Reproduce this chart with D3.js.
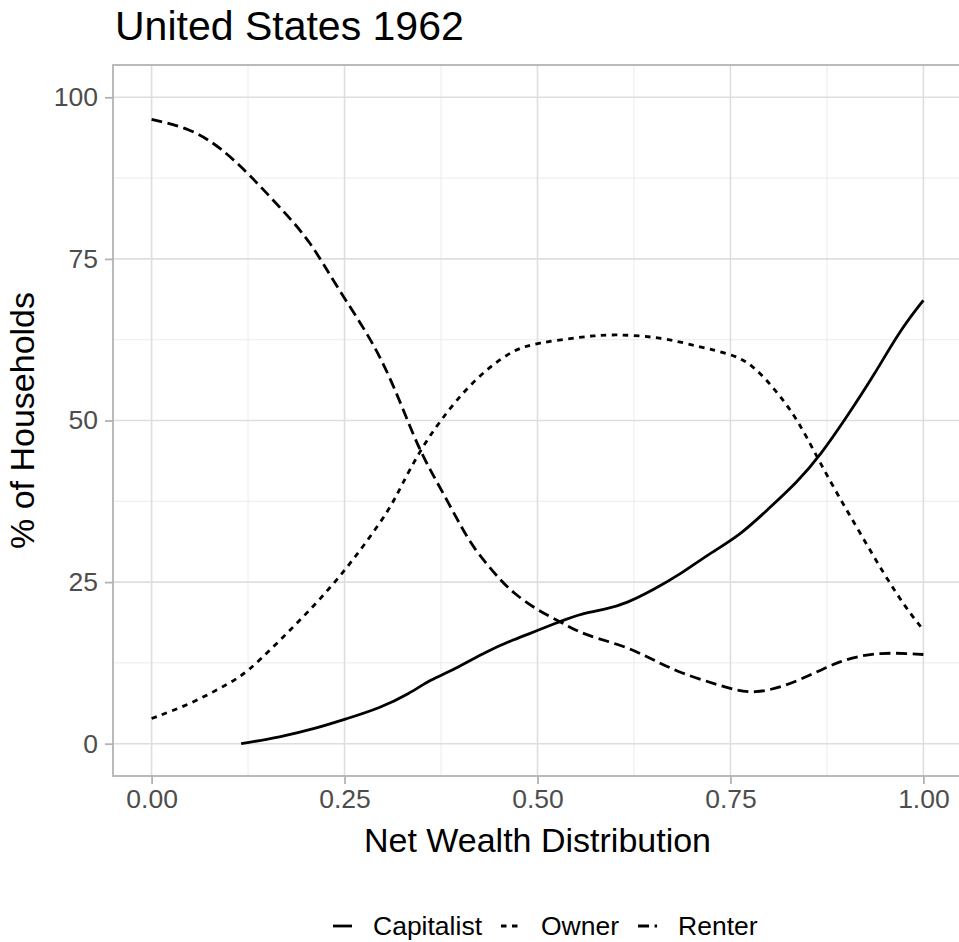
<!DOCTYPE html>
<html>
<head>
<meta charset="utf-8">
<script src="https://cdn.jsdelivr.net/npm/d3@7"></script>
<style>
  body { margin: 0; background: #fff; }
  svg { display: block; font-family: "Liberation Sans", Arial, sans-serif; }
</style>
</head>
<body>
<svg id="chart" width="959" height="942"></svg>
<script>
// --- data ---
const seriesNames = [ 'Capitalist', 'Owner', 'Renter' ]

const capitalistX = [ 0.116, 0.166, 0.214, 0.251, 0.296, 0.335, 0.361, 0.391, 0.434, 0.469, 0.5, 0.529, 0.559, 0.589, 0.615, 0.65, 0.685, 0.72, 0.763, 0.798, 0.837, 0.867, 0.901, 0.936, 0.97, 1.0 ]
const capitalistY = [ 0, 1.0, 2.4, 3.8, 5.5, 7.8, 9.9, 11.4, 14.3, 16.1, 17.5, 18.9, 20.2, 20.8, 21.7, 23.8, 26.2, 29.2, 32.3, 36.2, 40.5, 44.7, 50.6, 57.0, 64.0, 68.6 ]

const ownerX = [ 0, 0.05, 0.102, 0.125, 0.158, 0.188, 0.218, 0.251, 0.279, 0.309, 0.324, 0.348, 0.374, 0.413, 0.465, 0.5, 0.555, 0.598, 0.66, 0.71, 0.75, 0.772, 0.793, 0.815, 0.837, 0.862, 0.888, 0.918, 0.948, 0.979, 1.0 ]
const ownerY = [ 3.9, 6.1, 9.4, 11.2, 15.0, 18.6, 22.3, 26.9, 31.3, 36.4, 40.0, 45.4, 50.0, 55.8, 60.9, 62.0, 62.9, 63.4, 62.9, 61.4, 60.3, 59.1, 56.8, 53.7, 50.1, 44.4, 38.7, 32.6, 26.4, 20.7, 17.6 ]

const renterX = [ 0, 0.05, 0.089, 0.128, 0.166, 0.205, 0.24, 0.29, 0.322, 0.348, 0.378, 0.41, 0.43, 0.452, 0.469, 0.499, 0.529, 0.551, 0.577, 0.615, 0.65, 0.685, 0.737, 0.78, 0.84, 0.892, 0.944, 1.0 ]
const renterY = [ 96.6, 95.2, 92.3, 87.9, 83.0, 77.9, 70.6, 61.7, 53.0, 45.0, 38.8, 31.5, 28.4, 25.3, 23.3, 20.7, 18.9, 17.4, 16.3, 15.0, 13.0, 10.9, 9.0, 7.4, 9.7, 13.0, 14.2, 13.8 ]

const xTicks = [ 0, 0.25, 0.5, 0.75, 1 ]
const xMinor = [ 0.125, 0.375, 0.625, 0.875 ]
const yTicks = [ 0, 25, 50, 75, 100 ]
const yMinor = [ 12.5, 37.5, 62.5, 87.5 ]

const titleText = 'United States 1962'
const xTitle = 'Net Wealth Distribution'
const yTitle = '% of Households'

// ---
const svg = d3.select('#chart')

const panel = { left: 113, right: 962, top: 65, bottom: 776 }

const x = d3.scaleLinear().domain( [ -0.05, 1.05 ] ).range( [ panel.left, panel.right ] )
const y = d3.scaleLinear().domain( [ -5, 105 ] ).range( [ panel.bottom, panel.top ] )

const dashes = { Capitalist: null, Owner: '5.5,5.5', Renter: '11,5.5' }
const lineWidth = 2.8

const series = [
    { name: 'Capitalist', points: capitalistX.map( ( v, i ) => [ v, capitalistY[i] ] ) },
    { name: 'Owner', points: ownerX.map( ( v, i ) => [ v, ownerY[i] ] ) },
    { name: 'Renter', points: renterX.map( ( v, i ) => [ v, renterY[i] ] ) }
]

// grid
const grid = svg.append( 'g' )

grid.selectAll( 'line.xminor' ).data( xMinor ).join( 'line' )
    .attr( 'x1', d => x(d) ).attr( 'x2', d => x(d) )
    .attr( 'y1', panel.top ).attr( 'y2', panel.bottom )
    .attr( 'stroke', '#ebebeb' ).attr( 'stroke-width', 1 )

grid.selectAll( 'line.yminor' ).data( yMinor ).join( 'line' )
    .attr( 'y1', d => y(d) ).attr( 'y2', d => y(d) )
    .attr( 'x1', panel.left ).attr( 'x2', panel.right )
    .attr( 'stroke', '#ebebeb' ).attr( 'stroke-width', 1 )

grid.selectAll( 'line.xmajor' ).data( xTicks ).join( 'line' )
    .attr( 'x1', d => x(d) ).attr( 'x2', d => x(d) )
    .attr( 'y1', panel.top ).attr( 'y2', panel.bottom )
    .attr( 'stroke', '#dedede' ).attr( 'stroke-width', 1.6 )

grid.selectAll( 'line.ymajor' ).data( yTicks ).join( 'line' )
    .attr( 'y1', d => y(d) ).attr( 'y2', d => y(d) )
    .attr( 'x1', panel.left ).attr( 'x2', panel.right )
    .attr( 'stroke', '#dedede' ).attr( 'stroke-width', 1.6 )

// lines
const line = d3.line()
    .x( d => x( d[0] ) )
    .y( d => y( d[1] ) )
    .curve( d3.curveBasis )

svg.append( 'g' ).selectAll( 'path' ).data( series ).join( 'path' )
    .attr( 'd', d => line( d.points ) )
    .attr( 'fill', 'none' )
    .attr( 'stroke', '#000' )
    .attr( 'stroke-width', lineWidth )
    .attr( 'stroke-dasharray', d => dashes[ d.name ] )

// panel border
svg.append( 'rect' )
    .attr( 'x', panel.left ).attr( 'y', panel.top )
    .attr( 'width', panel.right - panel.left ).attr( 'height', panel.bottom - panel.top )
    .attr( 'fill', 'none' ).attr( 'stroke', '#b3b3b3' ).attr( 'stroke-width', 1.8 )

// axes
const xAxis = svg.append( 'g' )
    .attr( 'transform', `translate(0,${panel.bottom})` )
    .call( d3.axisBottom( x ).tickValues( xTicks ).tickFormat( d3.format( '.2f' ) ).tickSize( 8 ).tickPadding( 5 ) )

const yAxis = svg.append( 'g' )
    .attr( 'transform', `translate(${panel.left},0)` )
    .call( d3.axisLeft( y ).tickValues( yTicks ).tickSize( 8 ).tickPadding( 7 ) )

;[ xAxis, yAxis ].forEach( ax => {
    ax.select( '.domain' ).remove()
    ax.selectAll( '.tick line' ).attr( 'stroke', '#b3b3b3' ).attr( 'stroke-width', 1.8 )
    ax.selectAll( '.tick text' )
        .attr( 'fill', '#4d4d4d' )
        .style( 'font-size', '26.5px' )
        .style( 'font-family', '"Liberation Sans", Arial, sans-serif' )
} )

// titles
svg.append( 'text' )
    .attr( 'x', 115 ).attr( 'y', 40 )
    .style( 'font-size', '41px' )
    .text( titleText )

svg.append( 'text' )
    .attr( 'x', x( 0.5 ) ).attr( 'y', 852 )
    .attr( 'text-anchor', 'middle' )
    .style( 'font-size', '34px' )
    .text( xTitle )

svg.append( 'text' )
    .attr( 'transform', `translate(34,${ y( 50 ) }) rotate(-90)` )
    .attr( 'text-anchor', 'middle' )
    .style( 'font-size', '34px' )
    .text( yTitle )

// legend
const legend = svg.append( 'g' )
const keyW = 19, keyGap = 21, itemGap = 19, legendY = 926
let cursor = 0
seriesNames.forEach( name => {
    const g = legend.append( 'g' )
    g.append( 'line' )
        .attr( 'x1', 0 ).attr( 'x2', keyW )
        .attr( 'y1', legendY ).attr( 'y2', legendY )
        .attr( 'stroke', '#000' ).attr( 'stroke-width', lineWidth )
        .attr( 'stroke-dasharray', dashes[ name ] )
    const t = g.append( 'text' )
        .attr( 'x', keyW + keyGap ).attr( 'y', legendY + 9 )
        .style( 'font-size', '26.5px' )
        .text( name )
    const w = keyW + keyGap + t.node().getComputedTextLength()
    g.attr( 'transform', `translate(${cursor},0)` )
    cursor += w + itemGap
} )
legend.attr( 'transform', 'translate(333,0)' )
</script>
</body>
</html>
